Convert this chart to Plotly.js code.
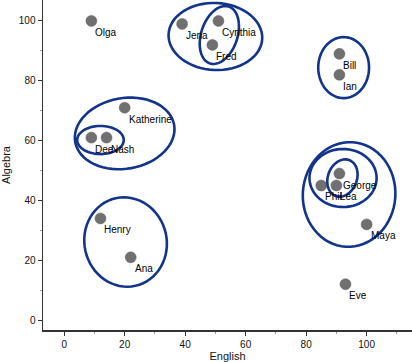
<!DOCTYPE html>
<html>
<head>
<meta charset="utf-8">
<script src="https://cdn.plot.ly/plotly-3.0.1.min.js"></script>
<style>html,body{margin:0;padding:0;background:#fff;}#chart{width:412px;height:362px;}</style>
</head>
<body>
<div id="chart"></div>
<script>
// Data
const names   = ["Olga","Jena","Cynthia","Fred","Bill","Ian","Katherine","Dee","Nash","Henry","Ana","George","Phil","Lea","Maya","Eve"];
const english = [9, 39, 51, 49, 91, 91, 20, 9, 14, 12, 22, 91, 85, 90, 100, 93];
const algebra = [100, 99, 100, 92, 89, 82, 71, 61, 61, 34, 21, 49, 45, 45, 32, 12];

// Hand-drawn group outlines: centre x, centre y, radius x, radius y, tilt (deg)
const ringCx   = [50,   51.3, 92.4, 20,   12,   20.3, 94.2, 92.2, 92];
const ringCy   = [94.8, 95.3, 84.4, 62.4, 60.2, 26.1, 42,   47.5, 47.5];
const ringRx   = [15.5, 6,    8.4,  16.6, 7.7,  13.6, 15.3, 11.1, 4.8];
const ringRy   = [11.2, 10,   10.2, 11.8, 4.7,  15.0, 17.5, 9.7,  6.4];
const ringTilt = [-3,   -18,  0,    10,   0,    12,   -4,   0,    -20];

function ringPath(cx, cy, rx, ry, tiltDeg) {
  const th = tiltDeg * Math.PI / 180;
  const n = 64;
  let d = "";
  for (let i = 0; i <= n + 4; i++) {
    const t = 0.6 + 2 * Math.PI * i / n;
    const ex = rx * Math.cos(t), ey = ry * Math.sin(t);
    const x = cx + ex * Math.cos(th) - ey * Math.sin(th);
    const y = cy + ex * Math.sin(th) + ey * Math.cos(th);
    d += (i === 0 ? "M" : "L") + x.toFixed(3) + "," + y.toFixed(3);
  }
  return d;
}

const shapes = ringCx.map((cx, i) => ({
  type: "path", xref: "x", yref: "y",
  path: ringPath(cx, ringCy[i], ringRx[i], ringRy[i], ringTilt[i]),
  line: {color: "rgb(18,52,140)", width: 2.6},
  layer: "above"
}));

const font = "Liberation Sans, Arial, Helvetica, sans-serif";

const labels = names.map((n, i) => ({
  x: english[i], y: algebra[i], xref: "x", yref: "y",
  text: n, showarrow: false, xanchor: "left", yanchor: "top",
  xshift: 3, yshift: -5, borderpad: 0,
  font: {family: font, size: 10, color: "#000"}
}));

const trace = {
  type: "scatter", mode: "markers",
  x: english, y: algebra,
  marker: {size: 11, color: "rgb(112,112,112)", line: {color: "rgb(95,95,95)", width: 0.5}},
  hoverinfo: "none", cliponaxis: false
};

const axisCommon = {
  showline: true, linecolor: "#333", linewidth: 1.5,
  ticks: "outside", ticklen: 4, tickcolor: "#333", tickwidth: 1,
  showgrid: false, zeroline: false,
  tickfont: {family: font, size: 10, color: "#111"},
  minor: {dtick: 10, tick0: 0, ticks: "outside", ticklen: 2, tickcolor: "#999", showgrid: false}
};

const layout = {
  width: 412, height: 362,
  margin: {l: 43, r: 0, t: 0, b: 32},
  paper_bgcolor: "#fff", plot_bgcolor: "#fff",
  showlegend: false,
  xaxis: Object.assign({}, axisCommon, {
    range: [-7, 115], tick0: 0, dtick: 20,
    title: {text: "English", font: {family: font, size: 11, color: "#111"}, standoff: 6}
  }),
  yaxis: Object.assign({}, axisCommon, {
    range: [-3.3, 107], tick0: 0, dtick: 20,
    title: {text: "Algebra", font: {family: font, size: 11, color: "#111"}, standoff: 6}
  }),
  shapes: shapes,
  annotations: labels
};

Plotly.newPlot("chart", [trace], layout, {displayModeBar: false, staticPlot: true});
</script>
</body>
</html>
